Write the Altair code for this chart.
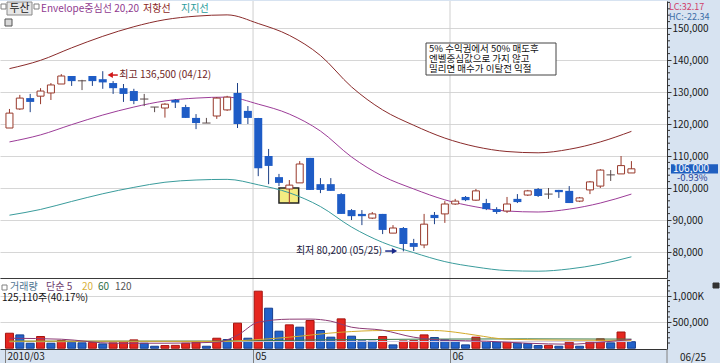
import altair as alt
import pandas as pd

FONT = "Noto Sans CJK KR"

# ---------------- data ----------------
idx = list(range(61))
opens = [118750, 124700, 128100, 128700, 129700, 132500, 135000, 133500, 135000, 134000,
         132800, 131200, 130300, 127800, 125300, 125000, 127500, 125300, 121900, 120300,
         122500, 124400, 129700, 124100, 121900, 110000, 103400, 99700, 101600, 109400,
         101200, 101200, 98100, 93100, 91900, 90600, 91900, 85900, 87500, 82800,
         82200, 91600, 91900, 95000, 97200, 96200, 95300, 93400, 92800, 96600,
         97800, 99700, 98100, 99400, 99100, 95900, 99400, 100600, 104100, 104400, 104700]
highs = [124700, 129100, 129400, 131200, 132800, 135600, 135000, 133800, 135000, 136500,
         133400, 132500, 131000, 129400, 125300, 126500, 127800, 126000, 123100, 121900,
         128400, 128800, 132800, 125600, 121900, 112200, 104400, 102500, 108400, 109400,
         103100, 103100, 98400, 93400, 93100, 92500, 91900, 88400, 87800, 84100,
         91900, 92500, 95900, 96600, 97500, 99700, 96600, 94000, 97200, 98100,
         99400, 100000, 100000, 99400, 100600, 97200, 102200, 105900, 105600, 110000, 108400]
lows = [118750, 124400, 123700, 126200, 127500, 132500, 131900, 130600, 131900, 131000,
        129400, 126900, 126200, 125600, 123700, 122000, 125000, 121900, 118400, 120300,
        121600, 124100, 118750, 120000, 103700, 101200, 100600, 95000, 101600, 99400,
        98400, 99100, 91900, 90000, 88400, 90300, 85600, 85900, 80200, 80300,
        81200, 88700, 89100, 94700, 95900, 96000, 93100, 91900, 92200, 95300,
        97500, 97200, 96600, 96900, 95300, 95600, 98100, 100000, 102200, 104400, 104700]
closes = [123400, 128100, 126900, 130300, 132200, 135000, 133400, 133500, 133400, 133000,
          131200, 129400, 127200, 127800, 125300, 126200, 126700, 121900, 120300, 120300,
          128100, 128400, 120000, 121900, 106200, 106900, 101600, 100900, 107500, 99400,
          99400, 99100, 91900, 91200, 91200, 91900, 86900, 87500, 82500, 81600,
          88700, 90600, 95000, 95900, 96200, 99100, 93400, 92500, 95000, 95600,
          99100, 97500, 98100, 98700, 95300, 96900, 101900, 105600, 104100, 107000, 106000]
volumes = [288000, 256000, 96000, 225000, 96000, 147000, 115000, 105000, 110000, 83000,
           103000, 128000, 160000, 96000, 38000, 51000, 55000, 96000, 115000, 38000,
           192000, 167000, 481000, 192000, 1096000, 769000, 327000, 449000, 404000, 532000,
           340000, 212000, 564000, 231000, 141000, 135000, 224000, 64000, 140000, 145000,
           256000, 205000, 160000, 141000, 64000, 212000, 128000, 122000, 130000, 96000,
           90000, 51000, 55000, 38000, 115000, 38000, 128000, 180000, 103000, 311450, 125110]

env_idx = [0, 3, 6, 9, 12, 15, 18, 21, 24, 27, 30, 33, 36, 39, 42, 45, 48, 51, 54, 57, 60]
env_mid = [114400, 116600, 119800, 122800, 125300, 127200, 128100, 128400, 126200, 123100, 117800,
           109700, 103700, 99700, 96300, 94100, 92800, 92500, 93400, 95300, 98100]
env_upper = [137300, 139900, 143800, 147400, 150400, 152600, 153700, 154100, 151400, 147700, 141400,
             131600, 124400, 119600, 115600, 112900, 111400, 111000, 112100, 114400, 117700]
env_lower = [91500, 93300, 95800, 98200, 100200, 101800, 102500, 102700, 101000, 98500, 94200,
             87800, 83000, 79800, 77000, 75300, 74200, 74000, 74700, 76200, 78500]

ma5_idx = [0, 5, 10, 15, 20, 22, 24, 27, 29, 31, 33, 36, 39, 42, 46, 50, 54, 57, 60]
ma5_vals = [192000, 173000, 96000, 96000, 115000, 250000, 500000, 558000, 560000, 520000, 404000,
            346000, 212000, 154000, 135000, 96000, 77000, 115000, 169000]
ma20_idx = [0, 10, 20, 23, 27, 32, 36, 41, 43, 45, 48, 54, 60]
ma20_vals = [135000, 135000, 130000, 154000, 212000, 308000, 340000, 340000, 308000, 250000, 173000,
             154000, 150000]
ma60_idx = [0, 20, 30, 40, 50, 60]
ma60_vals = [135000, 138000, 160000, 175000, 180000, 175000]
ma120_idx = [0, 30, 60]
ma120_vals = [125000, 130000, 128000]

month_breaks = [23.5, 42.5]
date_ticks = [-0.43, 23.5, 42.5]
date_labels = ["2010/03", "05", "06"]
price_ticks = [80000, 90000, 100000, 110000, 120000, 130000, 140000, 150000]
minor_ticks = [p for p in range(74000, 158001, 2000) if p % 10000 != 0]
vol_ticks = [500000, 1000000]
vol_tick_labels = ["500,000", "1,000K"]
vol_minor_ticks = [p for p in range(100000, 1300001, 100000) if p % 500000 != 0]

high_label = "최고 136,500 (04/12)"
low_label = "최저 80,200 (05/25)"
note_lines = ["5% 수익권에서 50% 매도후", "엔벨중심값으로 가지 않고", "밀리면 매수가 이탈전 익절"]
last_price = 106000
last_change = "-0.93%"
vol_info = "125,110주(40.17%)"

# ---------------- helpers ----------------
W, HM, HV = 667, 277, 70
UPC, DNC, DJC = "#98392b", "#1e5cc6", "#5a4a4a"


def label_expr(vals, labels):
    e = "''"
    for v, l in reversed(list(zip(vals, labels))):
        e = f"abs(datum.value - ({v})) < 0.01 ? '{l}' : ({e})"
    return e


xs = alt.Scale(domain=[-0.43, 62.95], nice=False, zero=False)
ys = alt.Scale(domain=[71875, 158437.5], nice=False, zero=False)
vs = alt.Scale(domain=[-15000, 1330000], nice=False, zero=False)

x_axis_main = alt.Axis(title=None, labels=False, ticks=False, grid=False, domain=True,
                       domainColor="#3a3a3a", minExtent=0, maxExtent=0)
y_axis_main = alt.Axis(title=None, orient="right", values=price_ticks, format=",d", grid=True,
                       gridColor="#d6d6d6", tickSize=4, tickColor="#333333", domainColor="#333333",
                       labelFont=FONT, labelFontSize=10, labelColor="#1a1a1a", labelPadding=1,
                       minExtent=53, maxExtent=53)
x_axis_vol = alt.Axis(title=None, values=date_ticks, labelExpr=label_expr(date_ticks, date_labels),
                      grid=False, tickSize=15, tickColor="#808080", domainColor="#333333",
                      labelAlign="left", labelBaseline="top", labelPadding=-13, labelOffset=2,
                      labelFont=FONT, labelFontSize=10, labelColor="#222222",
                      labelOverlap=False, labelFlush=False, minExtent=16, maxExtent=16)
y_axis_vol = alt.Axis(title=None, orient="right", values=vol_ticks,
                      labelExpr=label_expr(vol_ticks, vol_tick_labels), grid=True,
                      gridColor="#d6d6d6", tickSize=4, tickColor="#333333", domainColor="#333333",
                      labelFont=FONT, labelFontSize=10, labelColor="#1a1a1a", labelPadding=1,
                      minExtent=53, maxExtent=53)


def XM(f):
    return alt.X(f, type="quantitative", scale=xs, axis=x_axis_main)


def YM(f):
    return alt.Y(f, type="quantitative", scale=ys, axis=y_axis_main)


def XV(f):
    return alt.X(f, type="quantitative", scale=xs, axis=x_axis_vol)


def YV(f):
    return alt.Y(f, type="quantitative", scale=vs, axis=y_axis_vol)


ONE = pd.DataFrame({"a": [0]})


def label(text, x, y, color, size=10, align="left", weight="normal"):
    return alt.Chart(ONE).mark_text(text=text, align=align, baseline="middle", font=FONT,
                                    fontSize=size, color=color, fontWeight=weight).encode(
        x=alt.value(x), y=alt.value(y))


def box(x0, x1, y0, y1, fill, stroke, sw=1):
    return alt.Chart(ONE).mark_rect(fill=fill, stroke=stroke, strokeWidth=sw).encode(
        x=alt.value(x0), x2=alt.value(x1), y=alt.value(y0), y2=alt.value(y1))


# ---------------- main (price) panel ----------------
cdf = pd.DataFrame({"i": idx, "o": opens, "h": highs, "l": lows, "c": closes})
cdf["kind"] = ["doji" if o == c else ("up" if c > o else "down") for o, c in zip(opens, closes)]
cdf["xl"] = cdf["i"] - 0.4
cdf["xr"] = cdf["i"] + 0.4

env_df = pd.DataFrame({"i": env_idx, "mid": env_mid, "up": env_upper, "lo": env_lower})

grid_v = alt.Chart(pd.DataFrame({"g": month_breaks})).mark_rule(color="#cfcfcf").encode(x=XM("g"))

highlight = alt.Chart(pd.DataFrame({"x0": [26.0], "x1": [27.9], "y0": [95300], "y1": [100000]})).mark_rect(
    fill="#f3ea74", fillOpacity=0.9, stroke="#222222", strokeWidth=1.5).encode(
    x=XM("x0"), x2="x1", y=YM("y0"), y2="y1")

line_up = alt.Chart(env_df).mark_line(color="#8a2b2b", strokeWidth=1, interpolate="monotone").encode(
    x=XM("i"), y=YM("up"))
line_mid = alt.Chart(env_df).mark_line(color="#9c3c98", strokeWidth=1, interpolate="monotone").encode(
    x=XM("i"), y=YM("mid"))
line_lo = alt.Chart(env_df).mark_line(color="#3a9c9c", strokeWidth=1, interpolate="monotone").encode(
    x=XM("i"), y=YM("lo"))

wick = alt.Chart(cdf).mark_rule(strokeWidth=1).encode(
    x=XM("i"), y=YM("l"), y2="h",
    color=alt.Color("kind:N", scale=alt.Scale(domain=["up", "down", "doji"], range=[UPC, "#1b3f86", DJC]),
                    legend=None))
up_body = alt.Chart(cdf).transform_filter("datum.kind == 'up'").mark_bar(
    size=7, fill="white", stroke=UPC, strokeWidth=1).encode(x=XM("i"), y=YM("o"), y2="c")
dn_body = alt.Chart(cdf).transform_filter("datum.kind == 'down'").mark_bar(
    size=8, color=DNC).encode(x=XM("i"), y=YM("o"), y2="c")
doji = alt.Chart(cdf).transform_filter("datum.kind == 'doji'").mark_rule(
    color=DJC, strokeWidth=1).encode(x=XM("xl"), x2="xr", y=YM("o"))

hi_y = 135300
hi_shaft = alt.Chart(pd.DataFrame({"x0": [9.75], "x1": [10.45], "y": [hi_y]})).mark_rule(
    color="#d01818", strokeWidth=1.5).encode(x=XM("x0"), x2="x1", y=YM("y"))
hi_head = alt.Chart(pd.DataFrame({"x": [9.72], "y": [hi_y]})).mark_point(
    shape="triangle-left", filled=True, size=38, color="#d01818", opacity=1).encode(x=XM("x"), y=YM("y"))
hi_text = alt.Chart(pd.DataFrame({"x": [10.6], "y": [hi_y], "t": [high_label]})).mark_text(
    align="left", baseline="middle", font=FONT, fontSize=10, color="#6e1e1e").encode(
    x=XM("x"), y=YM("y"), text="t")

lo_y = 80300
lo_shaft = alt.Chart(pd.DataFrame({"x0": [36.25], "x1": [37.0], "y": [lo_y]})).mark_rule(
    color="#1a2a8a", strokeWidth=1.5).encode(x=XM("x0"), x2="x1", y=YM("y"))
lo_head = alt.Chart(pd.DataFrame({"x": [37.15], "y": [lo_y]})).mark_point(
    shape="triangle-right", filled=True, size=38, color="#1a2a8a", opacity=1).encode(x=XM("x"), y=YM("y"))
lo_text = alt.Chart(pd.DataFrame({"x": [35.96], "y": [lo_y], "t": [low_label]})).mark_text(
    align="right", baseline="middle", font=FONT, fontSize=10, color="#20203e").encode(
    x=XM("x"), y=YM("y"), text="t")

note_box = box(426, 556, 42, 74, "white", "#444444", 1)
note_texts = [label(t, 429, 48 + 10 * k, "#111111", size=9.5) for k, t in enumerate(note_lines)]

legend_main = [
    box(1, 6, 3, 8, "white", "#808080"),
    box(7, 32, 1, 14, "#e6e6e6", "#8a8a8a"),
    label("두산", 19.5, 7.5, "#222222", size=11, align="center"),
    box(34, 39, 3, 8, "white", "#808080"),
    label("Envelope중심선 20,20", 41, 7.5, "#8f3a8f"),
    label("저항선", 143, 7.5, "#8b1e1e"),
    label("지지선", 181, 7.5, "#2a9c9c"),
    box(5, 12, 18, 25, "#d8d8d8", "#555555"),
]

minor = alt.Chart(pd.DataFrame({"p": minor_ticks})).mark_rule(color="#333333").encode(
    x=alt.value(W), x2=alt.value(W + 3), y=YM("p"))

price_box = alt.Chart(pd.DataFrame({"y0": [last_price + 1400], "y1": [last_price - 1500]})).mark_rect(
    fill="#1f5fc0").encode(x=alt.value(671), x2=alt.value(718), y=YM("y0"), y2="y1")
price_text = alt.Chart(pd.DataFrame({"y": [last_price], "t": [f"{last_price:,}"]})).mark_text(
    align="left", baseline="middle", font=FONT, fontSize=10, color="white").encode(
    x=alt.value(673), y=YM("y"), text="t")
change_text = alt.Chart(pd.DataFrame({"y": [last_price], "t": [last_change]})).mark_text(
    align="left", baseline="middle", font=FONT, fontSize=9.5, color="#1f3f99", dy=9.5).encode(
    x=alt.value(677), y=YM("y"), text="t")
lc_text = label("LC:32.17", 669, 6, "#d0406a", size=9)
hc_text = label("HC:-22.34", 669, 15.5, "#3d6fa8", size=9)

main = alt.layer(
    grid_v, highlight, line_up, line_mid, line_lo, wick, up_body, dn_body, doji,
    hi_shaft, hi_head, hi_text, lo_shaft, lo_head, lo_text, note_box, *note_texts,
    *legend_main, minor, price_box, price_text, change_text, lc_text, hc_text
).properties(width=W, height=HM)

# ---------------- volume panel ----------------
vdf = pd.DataFrame({"i": idx, "v": volumes})
vdir = ["up"]
for k in range(1, len(volumes)):
    vdir.append("up" if volumes[k] > volumes[k - 1] else "down")
vdf["dir"] = vdir

grid_vv = alt.Chart(pd.DataFrame({"g": month_breaks})).mark_rule(color="#cfcfcf").encode(x=XV("g"))
vbars = alt.Chart(vdf).mark_bar(size=8, strokeWidth=1).encode(
    x=XV("i"), y=YV("v"),
    fill=alt.Fill("dir:N", scale=alt.Scale(domain=["up", "down"], range=["#e5261f", "#2262c9"]), legend=None),
    stroke=alt.Stroke("dir:N", scale=alt.Scale(domain=["up", "down"], range=["#a51410", "#173f8f"]), legend=None))


def ma_line(ix, vals, color):
    return alt.Chart(pd.DataFrame({"i": ix, "v": vals})).mark_line(
        color=color, strokeWidth=1, interpolate="monotone").encode(x=XV("i"), y=YV("v"))


vol_lines = [
    ma_line(ma120_idx, ma120_vals, "#d4cce2"),
    ma_line(ma60_idx, ma60_vals, "#3c7a4a"),
    ma_line(ma20_idx, ma20_vals, "#d4aa2a"),
    ma_line(ma5_idx, ma5_vals, "#8c3a74"),
]

legend_vol = [
    box(2, 7, 6, 11, "white", "#808080"),
    label("거래량", 10, 8, "#4e7391"),
    label("단순 5", 46, 8, "#6b3b6b"),
    label("20", 82, 8, "#d8b03a"),
    label("60", 98, 8, "#2f6f46"),
    label("120", 115, 8, "#555555"),
    label(vol_info, 2, 18.5, "#111111"),
    box(713, 719, 4, 9, "#333333", "#333333"),
]
vol_minor = alt.Chart(pd.DataFrame({"p": vol_minor_ticks})).mark_rule(color="#333333").encode(
    x=alt.value(W), x2=alt.value(W + 3), y=YV("p"))
end_tick = alt.Chart(ONE).mark_rule(color="#808080").encode(
    x=alt.value(W), y=alt.value(HV), y2=alt.value(HV + 16))
end_date = label("06/25", 680, HV + 8.5, "#222222")

vol = alt.layer(grid_vv, vbars, *vol_lines, *legend_vol, vol_minor, end_tick, end_date).properties(
    width=W, height=HV)

chart = alt.vconcat(main, vol, spacing=-3).resolve_scale(
    x="independent", y="independent", color="independent", fill="independent", stroke="independent"
).properties(padding=0, background="#d7e3f1").configure_view(fill="white", stroke=None)

chart.save("out.html", embed_options={"renderer": "svg", "actions": False})
